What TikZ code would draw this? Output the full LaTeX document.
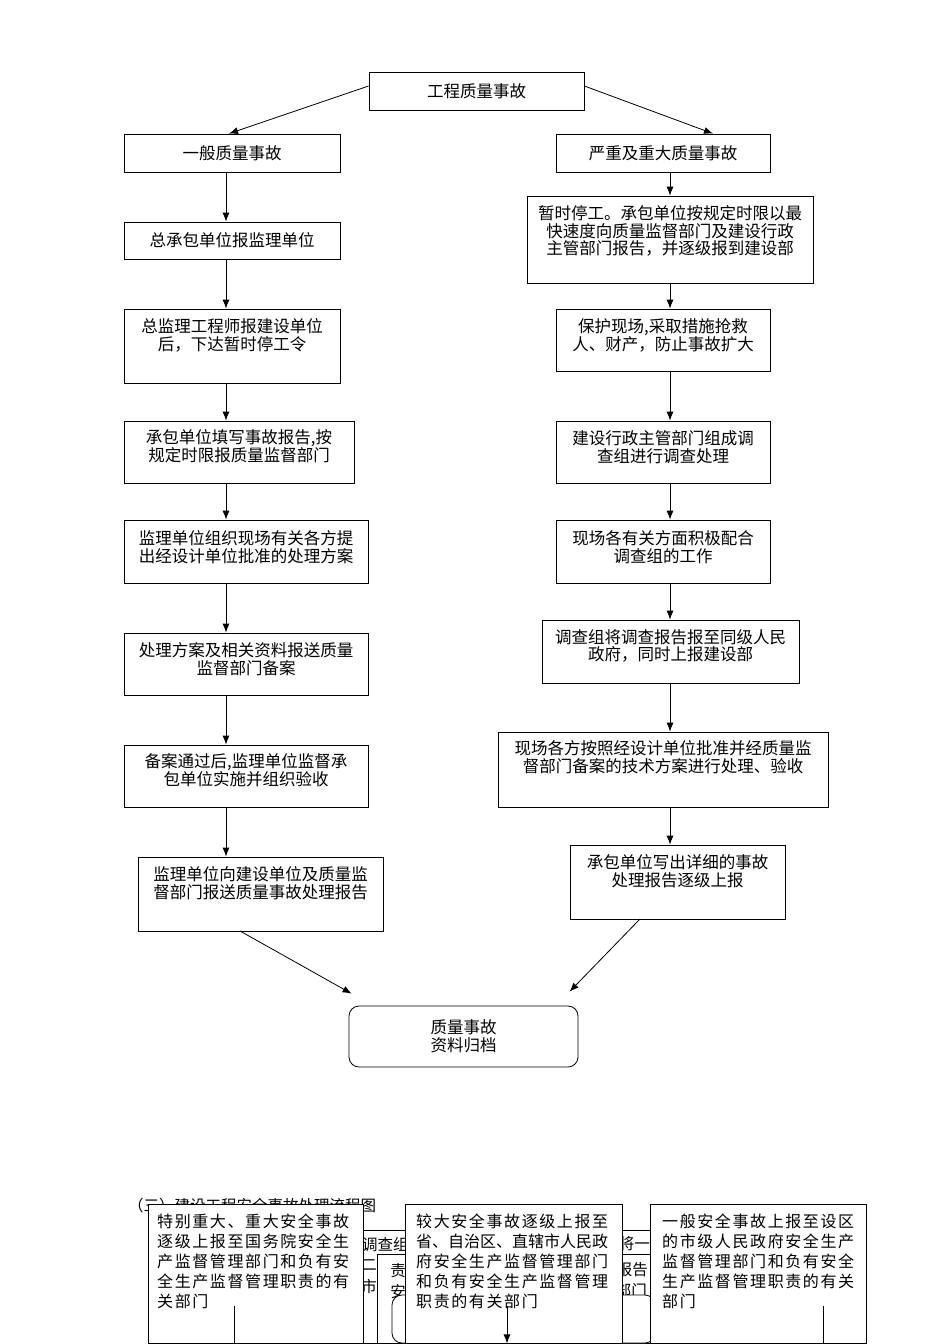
\documentclass[tikz,border=0pt]{standalone}
\usepackage{fontspec}
\setmainfont{Noto Sans CJK SC}
\usetikzlibrary{arrows.meta,fit}
\begin{document}
\begin{tikzpicture}[x=1pt,y=-1pt,
  box/.style={draw, line width=0.8pt, fill=white, inner sep=0pt},
  rbox/.style={draw, line width=0.8pt, fill=white, inner sep=0pt, rounded corners=10pt},
  txt/.style={font=\fontsize{16.5}{17.8}\selectfont, align=center, inner sep=0pt},
  btxt/.style={font=\fontsize{16}{19.8}\selectfont\addfontfeature{LetterSpace=10}, align=left, inner sep=0pt, anchor=north west},
  htxt/.style={font=\fontsize{15.5}{17}\selectfont, inner sep=0pt},
  arr/.style={-{Latex[length=9pt,width=7pt]}, line width=0.8pt},
  ln/.style={line width=0.8pt}]
\useasboundingbox (0,0) rectangle (950,1344);

% ---------- quality accident flow ----------
\node[box, fit={(369,72) (584,110)}] (top) {};
\node[txt] (topt) at (476.5,91) {工程质量事故};

\node[box, fit={(124,134) (340,172)}] (g1) {};
\node[txt] (g1t) at (232,153) {一般质量事故};
\node[box, fit={(124,222) (340,259)}] (g2) {};
\node[txt] (g2t) at (232,240) {总承包单位报监理单位};
\node[box, fit={(124,309) (340,383)}] (g3) {};
\node[txt] (g3t) at (232,335) {总监理工程师报建设单位\\后，下达暂时停工令};
\node[box, fit={(124,421) (354,483)}] (g4) {};
\node[txt] (g4t) at (239,446) {承包单位填写事故报告,按\\规定时限报质量监督部门};
\node[box, fit={(124,520) (368,583)}] (g5) {};
\node[txt] (g5t) at (246,547) {监理单位组织现场有关各方提\\出经设计单位批准的处理方案};
\node[box, fit={(124,633) (368,695)}] (g6) {};
\node[txt] (g6t) at (246,659) {处理方案及相关资料报送质量\\监督部门备案};
\node[box, fit={(124,745) (368,807)}] (g7) {};
\node[txt] (g7t) at (246,770) {备案通过后,监理单位监督承\\包单位实施并组织验收};
\node[box, fit={(138,857) (383,931)}] (g8) {};
\node[txt] (g8t) at (260.5,883) {监理单位向建设单位及质量监\\督部门报送质量事故处理报告};

\node[box, fit={(556,134) (770,172)}] (s1) {};
\node[txt] (s1t) at (663,153) {严重及重大质量事故};
\node[box, fit={(527,196) (813,283)}] (s2) {};
\node[txt] (s2t) at (670,231) {暂时停工。承包单位按规定时限以最\\快速度向质量监督部门及建设行政\\主管部门报告，并逐级报到建设部};
\node[box, fit={(556,309) (770,371)}] (s3) {};
\node[txt] (s3t) at (663,335) {保护现场,采取措施抢救\\人、财产，防止事故扩大};
\node[box, fit={(556,421) (770,483)}] (s4) {};
\node[txt] (s4t) at (663,447) {建设行政主管部门组成调\\查组进行调查处理};
\node[box, fit={(556,520) (770,583)}] (s5) {};
\node[txt] (s5t) at (663,547) {现场各有关方面积极配合\\调查组的工作};
\node[box, fit={(542,620) (799,683)}] (s6) {};
\node[txt] (s6t) at (670.5,646) {调查组将调查报告报至同级人民\\政府，同时上报建设部};
\node[box, fit={(498,732) (828,807)}] (s7) {};
\node[txt] (s7t) at (663,757) {现场各方按照经设计单位批准并经质量监\\督部门备案的技术方案进行处理、验收};
\node[box, fit={(570,845) (785,919)}] (s8) {};
\node[txt] (s8t) at (677.5,871) {承包单位写出详细的事故\\处理报告逐级上报};

\node[rbox, fit={(349,1006) (578,1067)}] (end) {};
\node[txt] (endt) at (463.5,1036) {质量事故\\资料归档};

\coordinate (colL) at (226,0);
\coordinate (colR) at (670,0);

\draw[arr] ([yshift=5pt]top.west) -- ([xshift=-3pt]g1.north);
\draw[arr] ([yshift=5pt]top.east) -- ([xshift=50pt]s1.north);

\foreach \a/\b in {g1/g2,g2/g3,g3/g4,g4/g5,g5/g6,g6/g7,g7/g8}
  \draw[arr] (\a.south -| colL) -- (\b.north -| colL);
\foreach \a/\b in {s1/s2,s2/s3,s3/s4,s4/s5,s5/s6,s6/s7,s7/s8}
  \draw[arr] (\a.south -| colR) -- (\b.north -| colR);

\coordinate (g8o) at (240,931);
\coordinate (s8o) at (640,919);
\draw[arr] (g8o) -- ([xshift=3pt,yshift=12pt]end.north west);
\draw[arr] (s8o) -- ([xshift=221pt,yshift=14pt]end.north west);

% ---------- safety accident flow (overlapping) ----------
\node[htxt, anchor=west] (head) at (128,1206) {（三）建设工程安全事故处理流程图};

\node[box, fit={(300,1230) (700,1343)}] (hid1) {};
\node[htxt, anchor=west] (h1a) at (362,1245) {调查组};
\node[htxt, anchor=east] (h1b) at (377,1265) {二};
\node[htxt, anchor=east] (h1c) at (377,1287) {市};
\node[htxt, anchor=east] (h1d) at (650,1244) {将一};
\node[box, fit={(377,1254) (700,1343)}] (hid2) {};
\node[htxt] (h2a) at (398,1271) {责};
\node[htxt] (h2b) at (398,1292) {安};
\node[htxt, anchor=east] (h2c) at (648,1270) {报告};
\node[htxt, anchor=east] (h2d) at (647,1291) {部门};
\node[rbox, fit={(392,1295) (655,1343)}] (hid3) {};

\node[box, fit={(148,1204) (363,1343)}] (A) {};
\node[btxt] (At) at (157,1214) {特别重大、重大安全事故\\逐级上报至国务院安全生\\产监督管理部门和负有安\\全生产监督管理职责的有\\关部门};
\node[box, fit={(405,1204) (622,1343)}] (B) {};
\node[btxt] (Bt) at (416,1214) {较大安全事故逐级上报至\\{\addfontfeature{LetterSpace=0}省、自治区、直辖市人民政}\\府安全生产监督管理部门\\和负有安全生产监督管理\\职责的有关部门};
\node[box, fit={(650,1204) (866,1343)}] (C) {};
\node[btxt] (Ct) at (662,1214) {一般安全事故上报至设区\\的市级人民政府安全生产\\监督管理部门和负有安全\\生产监督管理职责的有关\\部门};

\coordinate (la) at (234,1306);
\coordinate (lb) at (507,1306);
\coordinate (lc) at (823,1306);
\draw[ln] (la) -- (la |- A.south);
\draw[arr] (lb) -- (lb |- B.south);
\draw[ln] (lc) -- (lc |- C.south);
\end{tikzpicture}
\end{document}
